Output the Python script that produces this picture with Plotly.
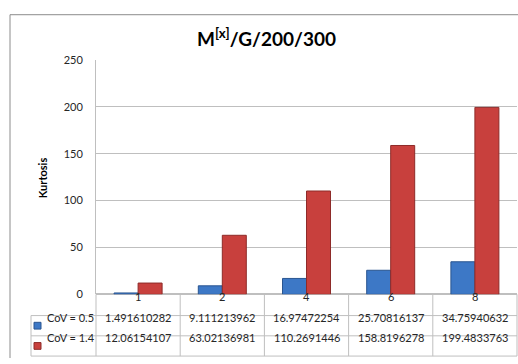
import plotly.graph_objects as go

# Chart data
categories = ["1", "2", "4", "6", "8"]
series_names = ["CoV = 0.5", "CoV = 1.4"]
cov_05 = [1.491610282, 9.111213962, 16.97472254, 25.70816137, 34.75940632]
cov_14 = [12.06154107, 63.02136981, 110.2691446, 158.8196278, 199.4833763]
y_ticks = [0, 50, 100, 150, 200, 250]

W, H = 518, 364
FONT = "Lato, Carlito, 'Open Sans', sans-serif"
GRID = "#BFBFBF"
colors = ["#3D78C6", "#C8403D"]
edges = ["#2A5590", "#8E2B29"]


def px(x):
    return x / W


def py(y):
    return 1 - y / H


fig = go.Figure()
for name, vals, c, e in zip(series_names, [cov_05, cov_14], colors, edges):
    fig.add_trace(go.Bar(
        x=categories, y=vals, name=name,
        marker=dict(color=c, line=dict(color=e, width=1)),
    ))

# Plot area in pixels
left, right, top, bottom = 96, 517, 55, 298
row1, row2, row3 = 320, 341, 362
table_left = 31
col_w = (right - left) / len(categories)

shapes = []
line = dict(color=GRID, width=1)
# outer chart border
shapes.append(dict(type="line", xref="paper", yref="paper",
                   x0=px(10), x1=px(518), y0=py(8), y1=py(8),
                   line=dict(color="#8C8C8C", width=1)))
shapes.append(dict(type="line", xref="paper", yref="paper",
                   x0=px(10), x1=px(10), y0=py(8), y1=py(364),
                   line=dict(color="#8C8C8C", width=1)))
# table rows
for yy in (row1, row2, row3):
    shapes.append(dict(type="line", xref="paper", yref="paper",
                       x0=px(table_left), x1=px(right), y0=py(yy), y1=py(yy), line=line))
shapes.append(dict(type="line", xref="paper", yref="paper",
                   x0=px(table_left), x1=px(table_left), y0=py(row1), y1=py(row3), line=line))
# table columns
for i in range(len(categories) + 1):
    xx = left + i * col_w
    shapes.append(dict(type="line", xref="paper", yref="paper",
                       x0=px(xx), x1=px(xx), y0=py(bottom), y1=py(row3), line=line))
# legend keys
for c, e, yy in zip(colors, edges, [(row1 + row2) / 2, (row2 + row3) / 2]):
    shapes.append(dict(type="rect", xref="paper", yref="paper",
                       x0=px(34), x1=px(41), y0=py(yy - 3.5), y1=py(yy + 3.5),
                       fillcolor=c, line=dict(color=e, width=1)))

annotations = []
tfont = dict(family=FONT, size=11, color="#262626")
for i, (cat, a, b) in enumerate(zip(categories, cov_05, cov_14)):
    annotations.append(dict(x=i, y=py((bottom + row1) / 2), xref="x", yref="paper",
                            text=cat, showarrow=False, font=tfont))
    annotations.append(dict(x=i, y=py((row1 + row2) / 2), xref="x", yref="paper",
                            text=f"{a:.10g}", showarrow=False, font=tfont))
    annotations.append(dict(x=i, y=py((row2 + row3) / 2), xref="x", yref="paper",
                            text=f"{b:.10g}", showarrow=False, font=tfont))
for name, yy in zip(series_names, [(row1 + row2) / 2, (row2 + row3) / 2]):
    annotations.append(dict(x=px(45), y=py(yy), xref="paper", yref="paper",
                            text=name, xanchor="left", showarrow=False, font=tfont))

# title and axis title
annotations.append(dict(x=px(266), y=py(17), xref="paper", yref="paper",
                        yanchor="top",
                        text="<b>M<sup>[x]</sup>/G/200/300</b>", showarrow=False,
                        font=dict(family=FONT, size=19, color="#000000")))
annotations.append(dict(x=px(34), y=py(177), xref="paper", yref="paper",
                        text="<b>Kurtosis</b>", textangle=-90, showarrow=False,
                        font=dict(family=FONT, size=11, color="#000000")))

fig.update_layout(
    width=W, height=H,
    margin=dict(l=0, r=0, t=0, b=0),
    paper_bgcolor="white", plot_bgcolor="white",
    barmode="group", bargap=0.43, bargroupgap=0,
    showlegend=False,
    font=dict(family=FONT, size=11, color="#262626"),
    xaxis=dict(domain=[px(left), px(right)], range=[-0.5, len(categories) - 0.5],
               showticklabels=False, showline=False, showgrid=False, type="category",
               categoryorder="array", categoryarray=categories),
    yaxis=dict(domain=[py(bottom), py(top)], range=[0, 250],
               tickvals=y_ticks, showgrid=True, gridcolor=GRID,
               showline=True, linecolor=GRID, zeroline=True, zerolinecolor=GRID,
               ticks="", ticklabelstandoff=10,
               tickfont=dict(family=FONT, size=11, color="#262626")),
    shapes=shapes,
    annotations=annotations,
)

# drop the default page margin so the figure fills the window exactly
fig.write_html(
    "out.html",
    config={"displayModeBar": False},
    post_script="document.body.style.margin='0';document.body.style.overflow='hidden';",
)
